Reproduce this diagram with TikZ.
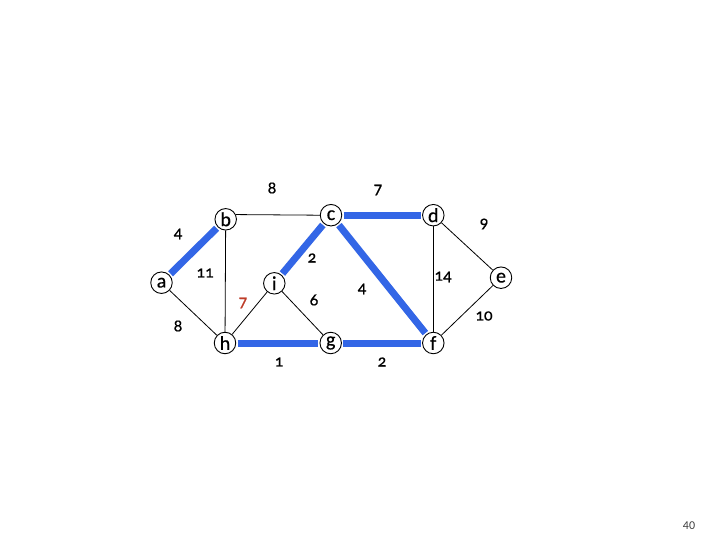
\documentclass[tikz,border=0pt]{standalone}
\usepackage{fontspec}
\setmainfont[Numbers=OldStyle,RawFeature={embolden=0.5}]{Carlito}
\newfontfamily\pagenumfont[Numbers=Lining]{Carlito}
\usetikzlibrary{backgrounds}
\begin{document}
\begin{tikzpicture}[x=1pt,y=-1pt,
  vtx/.style={circle,draw=black,line width=0.9pt,fill=white,minimum size=21.5pt,inner sep=0pt,font=\fontsize{20}{20}\selectfont},
  thin/.style={draw=black,line width=0.8pt},
  mst/.style={draw=mstblue,line width=7pt,shorten <=1.5pt,shorten >=1.5pt},
  wt/.style={font=\fontsize{17}{17}\selectfont,inner sep=0pt}]
\definecolor{mstblue}{RGB}{51,102,230}
\definecolor{wred}{RGB}{190,60,40}
\useasboundingbox (0,0) rectangle (720,540);
\node[vtx] (a) at (161.5,282.7) {a};
\node[vtx] (b) at (225.7,219.3) {b};
\node[vtx] (c) at (331,215.2) {c};
\node[vtx] (d) at (433.3,215.2) {d};
\node[vtx] (e) at (501,277.7) {e};
\node[vtx] (f) at (433.3,343) {f};
\node[vtx] (g) at (330.7,343) {g};
\node[vtx] (h) at (225,343) {h};
\node[vtx] (i) at (274.3,283.3) {i};
\begin{scope}[on background layer]
\fill[white] (0,0) rectangle (720,540);
\path[thin] (b.25) -- (c.west);
\path[thin] (b) -- (h);
\path[thin] (a) -- (h);
\path[thin] (i) -- (h);
\path[thin] (i) -- (g);
\path[thin] (d) -- (e);
\path[thin] (d) -- (f);
\path[thin] (e) -- (f);
\path[mst] (a) -- (b);
\path[mst] (c) -- (i);
\path[mst] (c) -- (d);
\path[mst] (c) -- (f);
\path[mst] (h) -- (g);
\path[mst] (g) -- (f);
\end{scope}
% weights
\node[wt] (w1) at (272,188) {8};
\node[wt] (w2) at (378,190) {7};
\node[wt] (w3) at (178,234) {4};
\node[wt] (w4) at (205,273) {11};
\node[wt] (w5) at (312,258) {2};
\node[wt,text=wred] (w6) at (243,303) {7};
\node[wt] (w7) at (314,300) {6};
\node[wt] (w8) at (178,326) {8};
\node[wt] (w9) at (279,362) {1};
\node[wt] (w10) at (382,362) {2};
\node[wt] (w11) at (362,289) {4};
\node[wt] (w12) at (443,277) {14};
\node[wt] (w13) at (484,224) {9};
\node[wt] (w14) at (484,316) {10};
\node[font=\pagenumfont\fontsize{12}{12}\selectfont,text=black!75,inner sep=0pt] (pg) at (689,526) {40};
\end{tikzpicture}
\end{document}
